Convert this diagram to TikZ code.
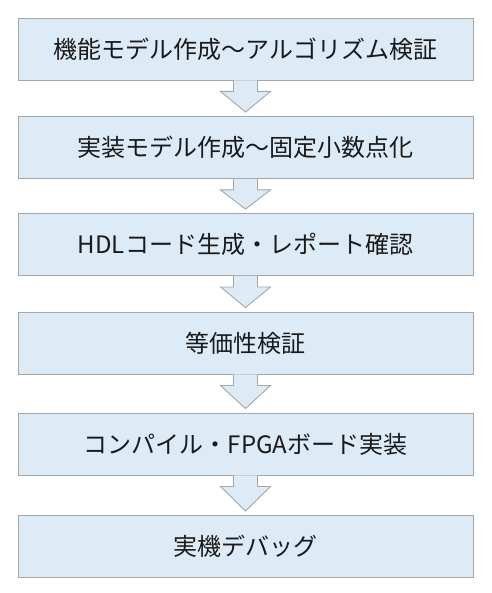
\documentclass[tikz,border=0pt]{standalone}
\usepackage{fontspec}
\newfontfamily\jp{Noto Sans CJK JP}
\usetikzlibrary{calc}
\definecolor{boxfill}{HTML}{DDEBF7}
\definecolor{boxline}{HTML}{A6A6A6}
\definecolor{txt}{HTML}{1A1A1A}
\tikzset{
  stepbox/.style={draw=boxline, line width=0.9pt, fill=boxfill, minimum width=455pt, minimum height=62pt, inner sep=0pt, text=txt, font=\jp\fontsize{24}{28}\selectfont},
  flowarrow/.style={draw=boxline, line width=0.9pt, fill=boxfill, line join=miter}
}
\newcommand{\flowarr}[2]{%
  \path[flowarrow] ($(#1.south)+(-12pt,0)$) -- ++(0,-11pt) -- ++(-13pt,0)
    -- ($(#2.north)+(0,4pt)$) -- ($(#1.south)+(25pt,-11pt)$) -- ++(-13pt,0)
    -- ($(#1.south)+(12pt,0)$);}
\begin{document}
\begin{tikzpicture}[x=1pt,y=1pt]
\useasboundingbox (0,0) rectangle (491,-593);
\node[stepbox] (b1) at (245.5,-49) {機能モデル作成〜アルゴリズム検証};
\node[stepbox] (b2) at (245.5,-147.5) {実装モデル作成〜固定小数点化};
\node[stepbox] (b3) at (245.5,-244.5) {HDLコード生成・レポート確認};
\node[stepbox] (b4) at (245.5,-343) {等価性検証};
\node[stepbox] (b5) at (245.5,-444) {コンパイル・FPGAボード実装};
\node[stepbox] (b6) at (245.5,-546.5) {実機デバッグ};
\flowarr{b1}{b2}
\flowarr{b2}{b3}
\flowarr{b3}{b4}
\flowarr{b4}{b5}
\flowarr{b5}{b6}
\end{tikzpicture}
\end{document}
